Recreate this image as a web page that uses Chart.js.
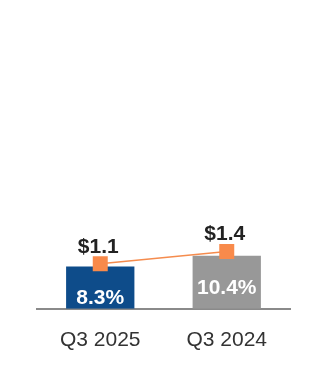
<!DOCTYPE html>
<html>
<head>
<meta charset="utf-8">
<script src="https://cdn.jsdelivr.net/npm/chart.js@4"></script>
<style>
  html, body { margin: 0; padding: 0; background: #fff; }
  #wrap { width: 326px; height: 384px; position: relative; }
</style>
</head>
<body>
<div id="wrap"><canvas id="chart"></canvas></div>
<script>
const categories = ["Q3 2025", "Q3 2024"]
const marginPct = [8.3, 10.4]          // bar values, %
const amounts = [1.1, 1.4]             // line values, $
const barColors = ["#0E4C8A", "#989898"]

const FONT = "'Liberation Sans', Arial, sans-serif"

// draws the $ labels above the squares and the % labels inside the bars
const valueLabels = {
  id: "valueLabels",
  afterDatasetsDraw(chart) {
    const ctx = chart.ctx
    ctx.save()
    ctx.textAlign = "center"
    ctx.textBaseline = "middle"
    ctx.font = "bold 21px " + FONT

    const bars = chart.getDatasetMeta(0).data
    bars.forEach((bar, i) => {
      ctx.fillStyle = "#ffffff"
      ctx.fillText(marginPct[i].toFixed(1) + "%", bar.x, bar.y + 32)
    })

    const pts = chart.getDatasetMeta(1).data
    pts.forEach((pt, i) => {
      ctx.fillStyle = "#222222"
      ctx.fillText("$" + amounts[i].toFixed(1), pt.x - 2, pt.y - 17)
    })
    ctx.restore()
  }
}

new Chart(document.getElementById("chart"), {
  data: {
    labels: categories,
    datasets: [
      {
        type: "bar",
        data: marginPct,
        backgroundColor: barColors,
        barPercentage: 0.54,
        categoryPercentage: 1,
        yAxisID: "y",
        order: 1
      },
      {
        type: "line",
        data: amounts,
        borderColor: "#F58C4E",
        borderWidth: 1.5,
        backgroundColor: "#F88A4B",
        pointStyle: "rect",
        pointRadius: 10.6,
        pointBorderWidth: 0,
        yAxisID: "y2",
        order: 0
      }
    ]
  },
  options: {
    responsive: true,
    maintainAspectRatio: false,
    animation: false,
    layout: { padding: { left: 37, right: 36, top: 10, bottom: 20 } },
    plugins: {
      legend: { display: false },
      tooltip: { enabled: false }
    },
    scales: {
      x: {
        grid: { display: false },
        border: { display: true, color: "#8a8a8a", width: 2 },
        ticks: {
          color: "#333333",
          padding: 11,
          font: { family: FONT, size: 21 }
        }
      },
      y: { display: false, min: 0, max: 58.5 },
      y2: { display: false, min: 0, max: 7.3 }
    }
  },
  plugins: [valueLabels]
})
</script>
</body>
</html>
